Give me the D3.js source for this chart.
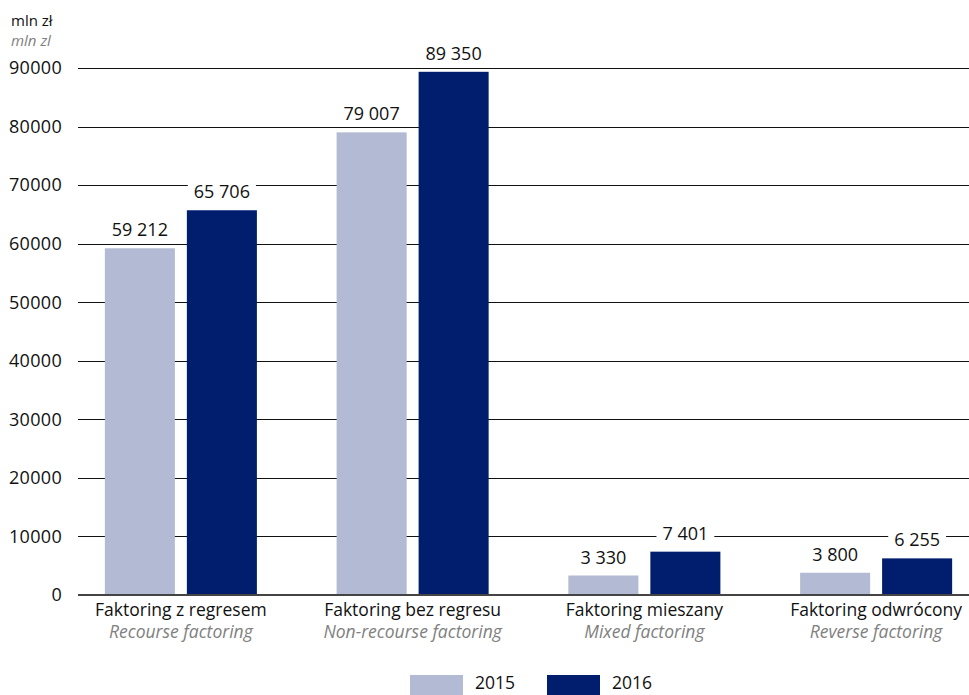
<!DOCTYPE html>
<html>
<head>
<meta charset="utf-8">
<script src="https://cdn.jsdelivr.net/npm/d3@7"></script>
<style>
  body { margin: 0; background: #fff; }
  svg text { font-family: "Open Sans", "Noto Sans", sans-serif; }
</style>
</head>
<body>
<div id="chart"></div>
<script>
// data
const categories = ['Faktoring z regresem', 'Faktoring bez regresu', 'Faktoring mieszany', 'Faktoring odwrócony'];
const categoriesEn = ['Recourse factoring', 'Non-recourse factoring', 'Mixed factoring', 'Reverse factoring'];
const years = ['2015', '2016'];
const values2015 = [59212, 79007, 3330, 3800];
const values2016 = [65706, 89350, 7401, 6255];
const yTicks = [0, 10000, 20000, 30000, 40000, 50000, 60000, 70000, 80000, 90000];

const colors = {'2015': '#b2bad4', '2016': '#001d6e'};

const W = 969, H = 695;
const svg = d3.select('#chart').append('svg')
  .attr('width', W)
  .attr('height', H);

const pl = d3.formatLocale({decimal: ',', thousands: ' ', grouping: [3], currency: ['', '']});
const fmt = pl.format(',d');

const y = d3.scaleLinear().domain([0, 90000]).range([595, 68]);

const x0 = d3.scaleBand()
  .domain(categories)
  .range([65, 992])
  .paddingInner(0.344)
  .paddingOuter(0.172);

const x1 = d3.scaleBand()
  .domain(years)
  .range([0, x0.bandwidth()])
  .paddingInner(0.146);

// unit title
svg.append('text')
  .attr('x', 11).attr('y', 26)
  .attr('font-size', 15)
  .attr('fill', '#111')
  .text('mln zł');
svg.append('text')
  .attr('x', 11).attr('y', 46)
  .attr('font-size', 15)
  .attr('font-style', 'italic')
  .attr('fill', '#808080')
  .text('mln zl');

// gridlines + tick labels
svg.append('g')
  .selectAll('line')
  .data(yTicks.filter(d => d > 0))
  .enter()
  .append('line')
    .attr('x1', 78).attr('x2', W)
    .attr('y1', d => Math.round(y(d)) + 0.5)
    .attr('y2', d => Math.round(y(d)) + 0.5)
    .attr('stroke', '#111')
    .attr('stroke-width', 1);

svg.append('g')
  .selectAll('text')
  .data(yTicks)
  .enter()
  .append('text')
    .attr('x', 62)
    .attr('y', d => y(d))
    .attr('dy', '0.35em')
    .attr('text-anchor', 'end')
    .attr('font-size', 18)
    .attr('letter-spacing', 0.3)
    .attr('fill', '#111')
    .text(d => d);

// bars
const rows = categories.map((c, i) => ({cat: c, vals: [
  {year: '2015', value: values2015[i]},
  {year: '2016', value: values2016[i]}
]}));

const groups = svg.append('g')
  .selectAll('g')
  .data(rows)
  .enter()
  .append('g')
    .attr('transform', d => `translate(${x0(d.cat)},0)`);

groups.selectAll('rect')
  .data(d => d.vals)
  .enter()
  .append('rect')
    .attr('x', d => x1(d.year))
    .attr('y', d => y(d.value))
    .attr('width', x1.bandwidth())
    .attr('height', d => y(0) - y(d.value))
    .attr('fill', d => colors[d.year]);

// value labels with white box behind
const lbl = groups.selectAll('g.lbl')
  .data(d => d.vals)
  .enter()
  .append('g')
    .attr('class', 'lbl');

lbl.append('rect').attr('fill', '#fff');
lbl.append('text')
  .attr('x', d => x1(d.year) + x1.bandwidth() / 2)
  .attr('y', d => y(d.value) - 12)
  .attr('text-anchor', 'middle')
  .attr('font-size', 18)
  .attr('fill', '#111')
  .text(d => fmt(d.value));

lbl.each(function() {
  const g = d3.select(this);
  const bb = g.select('text').node().getBBox();
  g.select('rect')
    .attr('x', bb.x - 6)
    .attr('y', bb.y)
    .attr('width', bb.width + 12)
    .attr('height', bb.height);
});

// baseline
svg.append('line')
  .attr('x1', 78).attr('x2', W)
  .attr('y1', y(0)).attr('y2', y(0))
  .attr('stroke', '#444')
  .attr('stroke-width', 2);

// category labels
const cl = svg.append('g')
  .selectAll('g')
  .data(categories)
  .enter()
  .append('g');

cl.append('text')
  .attr('x', d => x0(d) + x0.bandwidth() / 2)
  .attr('y', 616)
  .attr('text-anchor', 'middle')
  .attr('font-size', 17.5)
  .attr('fill', '#111')
  .text(d => d);

cl.append('text')
  .attr('x', d => x0(d) + x0.bandwidth() / 2)
  .attr('y', 638)
  .attr('text-anchor', 'middle')
  .attr('font-size', 17.5)
  .attr('font-style', 'italic')
  .attr('fill', '#808080')
  .text((d, i) => categoriesEn[i]);

// legend
const legX = d3.scaleOrdinal().domain(years).range([410, 547]);
const leg = svg.append('g')
  .selectAll('g')
  .data(years)
  .enter()
  .append('g')
    .attr('transform', d => `translate(${legX(d)},675)`);

leg.append('rect')
  .attr('width', 53)
  .attr('height', 20)
  .attr('fill', d => colors[d]);

leg.append('text')
  .attr('x', 65)
  .attr('y', 14)
  .attr('font-size', 17.5)
  .attr('fill', '#111')
  .text(d => d);
</script>
</body>
</html>
